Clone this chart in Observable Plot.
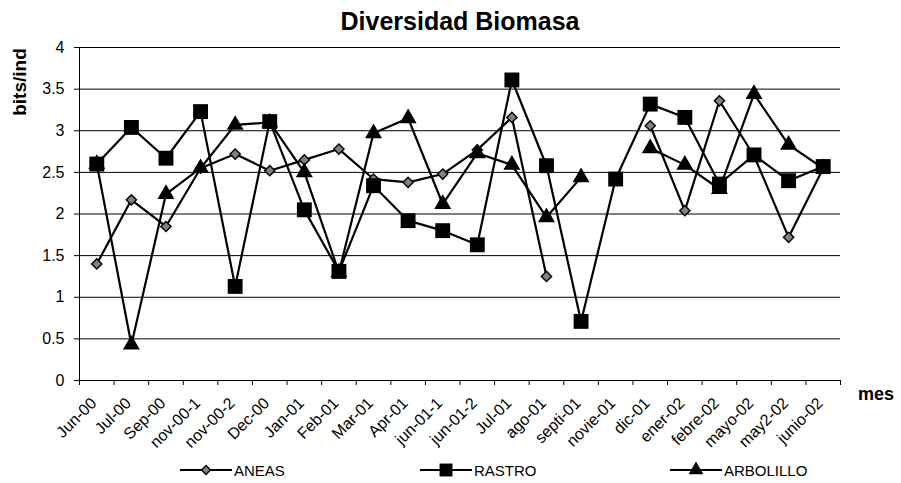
<!DOCTYPE html>
<html>
<head>
<meta charset="utf-8">
<script src="https://cdn.jsdelivr.net/npm/d3@7"></script>
<script src="https://cdn.jsdelivr.net/npm/@observablehq/plot@0.6"></script>
<style>
  html, body { margin: 0; padding: 0; background: #fff; }
  #wrap { position: relative; width: 901px; height: 483px; font-family: "Liberation Sans", Arial, sans-serif; color: #000; overflow: hidden; }
  #title { position: absolute; left: 0; top: 0; width: 920px; height: 36px; text-align: center; font-weight: bold; font-size: 25px; line-height: 42px; }
  #chart { position: absolute; left: 0; top: 30px; }
  #ylab { position: absolute; left: 20px; top: 82px; transform: translate(-50%, -50%) rotate(-90deg); font-weight: bold; font-size: 19px; white-space: nowrap; }
  #xlab { position: absolute; left: 858px; top: 384px; font-weight: bold; font-size: 18px; }
  #legend { position: absolute; left: 0; top: 455px; width: 901px; height: 28px; }
  .item { position: absolute; top: 0; height: 28px; display: flex; align-items: center; font-size: 15px; }
  .item svg { display: block; }
</style>
</head>
<body>
<div id="wrap">
  <div id="title">Diversidad Biomasa</div>
  <div id="chart"></div>
  <div id="ylab">bits/ind</div>
  <div id="xlab">mes</div>
  <div id="legend"></div>
</div>
<script>
const categories = ["Jun-00","Jul-00","Sep-00","nov-00-1","nov-00-2","Dec-00","Jan-01","Feb-01","Mar-01","Apr-01","jun-01-1","jun-01-2","Jul-01","ago-01","septi-01","novie-01","dic-01","ener-02","febre-02","mayo-02","may2-02","junio-02"];
const aneas     = [1.40, 2.17, 1.85, 2.55, 2.72, 2.52, 2.65, 2.78, 2.42, 2.38, 2.48, 2.77, 3.16, 1.25, null, null, 3.06, 2.04, 3.36, 2.70, 1.72, 2.55];
const rastro    = [2.60, 3.04, 2.67, 3.23, 1.13, 3.11, 2.05, 1.31, 2.34, 1.92, 1.80, 1.63, 3.61, 2.58, 0.71, 2.42, 3.32, 3.16, 2.36, 2.71, 2.40, 2.57];
const arbolillo = [2.60, 0.43, 2.24, 2.55, 3.07, 3.10, 2.50, 1.30, 2.97, 3.15, 2.12, 2.73, 2.59, 1.96, 2.44, null, 2.79, 2.59, 2.30, 3.44, 2.83, 2.55];
const seriesNames = ["ANEAS", "RASTRO", "ARBOLILLO"];
const yTicks = [0, 0.5, 1, 1.5, 2, 2.5, 3, 3.5, 4];

const seriesStyle = [
  {values: aneas, symbol: "diamond2", r: 4.6, fill: "#808080", stroke: "#000", sw: 1.4},
  {values: rastro, symbol: "square", r: 8.4, fill: "#000", stroke: "#000", sw: 0},
  {values: arbolillo, symbol: "triangle", r: 6.3, fill: "#000", stroke: "#000", sw: 0}
];

const idx = categories.map((c, i) => i);
const boundaries = d3.range(categories.length + 1).map(i => i - 0.5);

const marks = [
  Plot.ruleY(yTicks, {stroke: "#000", strokeWidth: 1}),
  Plot.ruleX([-0.5], {stroke: "#000", strokeWidth: 1}),
  Plot.axisY(yTicks, {tickSize: 5, tickPadding: 10, fontSize: 16, tickFormat: d => String(d), label: null}),
  Plot.axisX(boundaries, {tickSize: 5, tickFormat: () => "", label: null}),
  Plot.axisX(idx, {tickSize: 0, tickRotate: -45, tickPadding: 20, dx: -3, fontSize: 16, tickFormat: i => categories[i], label: null})
];
seriesStyle.forEach(s => {
  const data = idx.map(i => ({i, v: s.values[i]}));
  marks.push(Plot.line(data, {x: "i", y: "v", stroke: "#000", strokeWidth: 2.2}));
});
seriesStyle.forEach(s => {
  const data = idx.map(i => ({i, v: s.values[i]})).filter(d => d.v != null);
  marks.push(Plot.dot(data, {x: "i", y: "v", symbol: () => s.symbol, r: s.r, fill: s.fill, stroke: s.stroke, strokeWidth: s.sw}));
});

const chart = Plot.plot({
  width: 901,
  height: 425,
  marginTop: 17,
  marginBottom: 75,
  marginLeft: 79,
  marginRight: 61,
  style: {fontFamily: "'Liberation Sans', Arial, sans-serif", color: "#000", background: "transparent"},
  x: {type: "linear", domain: [-0.5, categories.length - 0.5], axis: null},
  y: {domain: [0, 4], axis: null},
  symbol: {type: "identity"},
  marks
});
document.getElementById("chart").appendChild(chart);

// legend
const legendPos = [180, 420, 670];
const legend = d3.select("#legend");
seriesNames.forEach((name, k) => {
  const s = seriesStyle[k];
  const item = legend.append("div").attr("class", "item").style("left", legendPos[k] + "px");
  const svg = item.append("svg").attr("width", 54).attr("height", 28);
  svg.append("line").attr("x1", 0).attr("x2", 52).attr("y1", 15).attr("y2", 15).attr("stroke", "#000").attr("stroke-width", 2.2);
  const symMap = {diamond2: d3.symbolDiamond2, square: d3.symbolSquare, triangle: d3.symbolTriangle};
  const size = Math.PI * s.r * s.r * 0.75;
  svg.append("path").attr("transform", "translate(26,15)")
    .attr("d", d3.symbol(symMap[s.symbol], size)())
    .attr("fill", s.fill).attr("stroke", s.stroke).attr("stroke-width", s.sw);
  item.append("span").text(name).style("margin-top", "2px");
});
</script>
</body>
</html>
